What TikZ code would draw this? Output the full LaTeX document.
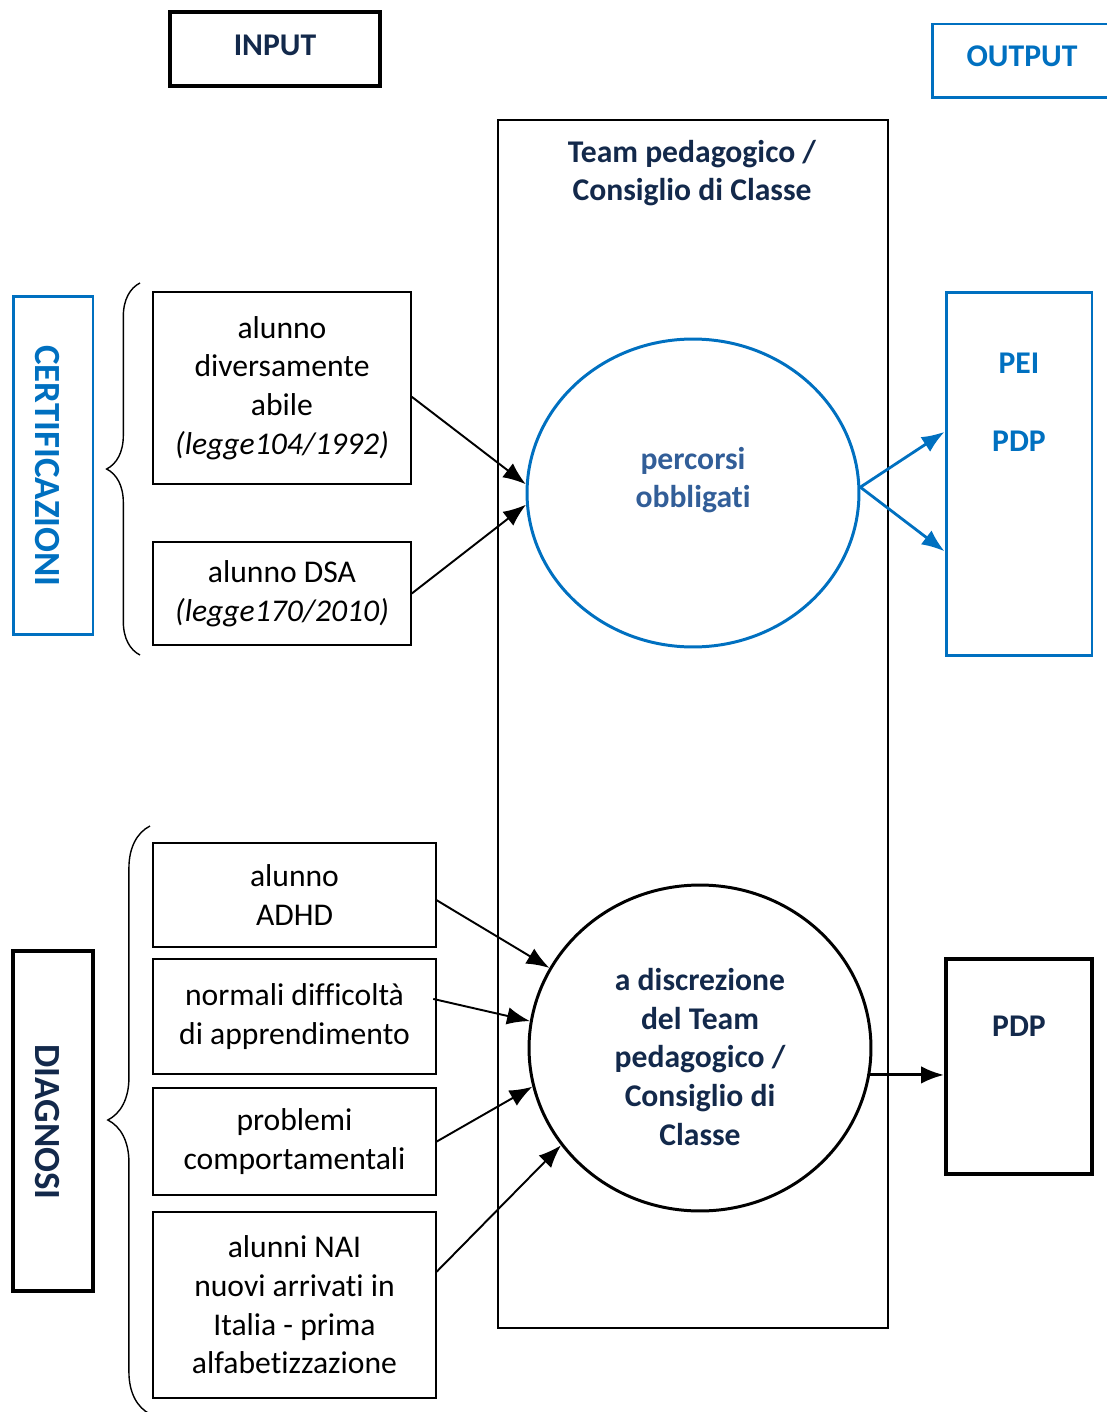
\documentclass[tikz,border=0pt]{standalone}
\usepackage{fontspec}
\setmainfont[Ligatures=NoCommon]{Carlito}
\usetikzlibrary{decorations.pathreplacing,shapes.geometric,arrows.meta}
\definecolor{navy}{RGB}{19,41,75}
\definecolor{blu}{RGB}{0,112,192}
\definecolor{azz}{RGB}{50,94,152}
\tikzset{
	box/.style={draw,line width=0.9pt,align=center,inner sep=0pt},
	titolo/.style={text=navy,font=\fontsize{18}{22}\selectfont\bfseries,align=center},
	verticale/.style={titolo,rotate=-90,font=\fontsize{21}{25}\selectfont\bfseries},
	freccia/.style={line width=1.1pt,-{Latex[length=13pt,width=10pt]}},
	graffa/.style={decorate,line width=0.8pt},
}

\begin{document}
\fontsize{18}{22}\selectfont
\begin{tikzpicture}[x=0.02cm,y=-0.02cm]
	\useasboundingbox (0,0) rectangle (1106,1412);
	\node (input) [box,line width=2.3pt,minimum width=4.2cm,minimum height=1.48cm] at (275,49) {};
	\node[titolo] at (275,45) {INPUT};
	\node (output) [box,draw=blu,line width=1.7pt,minimum width=3.66cm,minimum height=1.48cm] at (1023.5,61) {};
	\node[titolo,text=blu] at (1022,56) {OUTPUT};
	\node (team) [box,minimum width=7.8cm,minimum height=24.16cm] at (693,724) {};
	\node[titolo] at (692,173) {Team pedagogico /\\Consiglio di Classe};

	\node (cert) [box,draw=blu,line width=1.7pt,minimum width=1.6cm,minimum height=6.78cm] at (53,465.5) {};
	\node[verticale,text=blu] at (47,466) {CERTIFICAZIONI};
	\node (diag) [box,line width=2.3pt,minimum width=1.6cm,minimum height=6.8cm] at (53,1121) {};
	\node[verticale] at (47,1122) {DIAGNOSI};

	\draw[graffa,decoration={brace,amplitude=19pt}] (140,655) -- (140,283);
	\draw[graffa,decoration={brace,amplitude=24pt}] (150,1414) -- (150,826);

	\node (dav) [box,minimum width=5.16cm,minimum height=3.84cm] at (282,388)
		{alunno\\diversamente\\abile\\\textit{(legge104/1992)}};
	\node (dsa) [box,minimum width=5.16cm,minimum height=2.06cm] at (282,593.5)
		{alunno DSA\\\textit{(legge170/2010)}};

	\node (adhd) [box,minimum width=5.66cm,minimum height=2.08cm] at (294.5,895) {alunno\\ADHD};
	\node (norm) [box,minimum width=5.66cm,minimum height=2.3cm] at (294.5,1016.5) {normali difficoltà\\di apprendimento};
	\node (prob) [box,minimum width=5.66cm,minimum height=2.14cm] at (294.5,1141.5) {problemi\\comportamentali};
	\node (nai) [box,minimum width=5.66cm,minimum height=3.72cm] at (294.5,1305)
		{alunni NAI\\nuovi arrivati in\\Italia - prima\\alfabetizzazione};

	\node (perc) [ellipse,draw=blu,line width=1.7pt,minimum width=6.64cm,minimum height=6.16cm] at (693,493) {};
	\node[titolo,text=azz] at (693,480) {percorsi\\obbligati};
	\node (disc) [ellipse,draw,line width=1.7pt,minimum width=6.84cm,minimum height=6.52cm] at (700,1048) {};
	\node[titolo] at (700,1057) {a discrezione\\del Team\\pedagogico /\\Consiglio di\\Classe};

	\node (pp) [box,draw=blu,line width=1.7pt,minimum width=2.92cm,minimum height=7.28cm] at (1019,474) {};
	\node[titolo,text=blu] at (1019,363) {PEI};
	\node[titolo,text=blu] at (1019,441) {PDP};
	\node (pdp) [box,line width=2.3pt,minimum width=2.92cm,minimum height=4.3cm] at (1019,1066.5) {};
	\node[titolo] at (1019,1026) {PDP};

	\draw[freccia] ([yshift=-5pt]dav.east) -- (perc.177);
	\draw[freccia] (dsa.east) -- (perc.184);
	\draw[freccia,blu,line width=1.6pt] (perc.2) -- ([yshift=24pt]pp.west);
	\draw[freccia,blu,line width=1.6pt] (perc.2) -- ([yshift=-44pt]pp.west);

	\draw[freccia] ([yshift=-3pt]adhd.east) -- (disc.152);
	\draw[freccia] ([yshift=10pt,xshift=-2pt]norm.east) -- (disc.171);
	\draw[freccia] (prob.east) -- (disc.193);
	\draw[freccia] ([yshift=19pt]nai.east) -- (disc.215);
	\draw[freccia,line width=1.7pt] (disc.-9) -- (disc.-9 -| pdp.west);
\end{tikzpicture}
\end{document}
